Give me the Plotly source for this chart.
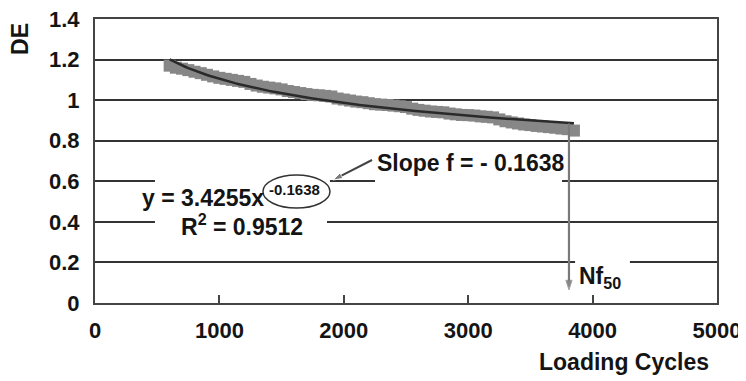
import plotly.graph_objects as go

# ---- data ----
cycles = [600, 650, 700, 750, 800, 850, 900, 950, 1000, 1050, 1100, 1150, 1200,
          1250, 1300, 1350, 1400, 1450, 1500, 1550, 1600, 1650, 1700, 1750, 1800,
          1850, 1900, 1950, 2000, 2050, 2100, 2150, 2200, 2250, 2300, 2350, 2400,
          2450, 2500, 2550, 2600, 2650, 2700, 2750, 2800, 2850, 2900, 2950, 3000,
          3050, 3100, 3150, 3200, 3250, 3300, 3350, 3400, 3450, 3500, 3550, 3600,
          3650, 3700, 3750, 3800, 3850]
de_values = [1.170, 1.160, 1.155, 1.148, 1.140, 1.133, 1.125, 1.117, 1.110, 1.105,
             1.100, 1.095, 1.090, 1.080, 1.072, 1.066, 1.062, 1.058, 1.053, 1.045,
             1.040, 1.035, 1.030, 1.026, 1.024, 1.021, 1.018, 1.008, 1.003, 0.998,
             0.993, 0.990, 0.985, 0.980, 0.978, 0.976, 0.973, 0.970, 0.966, 0.958,
             0.952, 0.948, 0.944, 0.942, 0.940, 0.934, 0.930, 0.927, 0.926, 0.924,
             0.920, 0.918, 0.915, 0.905, 0.896, 0.890, 0.885, 0.880, 0.877, 0.873,
             0.870, 0.867, 0.864, 0.860, 0.857, 0.850]

# power trendline shown on the chart: y = A * x^b
fit_A = 3.4255
fit_b = -0.1638
fit_r2 = 0.9512
fit_x = list(range(600, 3851, 25))
fit_y = [fit_A * x ** fit_b for x in fit_x]

nf50_cycles = 3810
nf50_arrow_y = [0.885, 0.065]
slope_arrow_x = [2227, 1913]
slope_arrow_y = [0.705, 0.606]

x_ticks = [0, 1000, 2000, 3000, 4000, 5000]
y_ticks = [0, 0.2, 0.4, 0.6, 0.8, 1.0, 1.2, 1.4]
y_ticktext = ["0", "0.2", "0.4", "0.6", "0.8", "1", "1.2", "1.4"]

FONT = "Liberation Sans, Arial, sans-serif"
TXT = "#141414"

fig = go.Figure()
fig.add_trace(go.Scatter(
    x=cycles, y=de_values, mode="markers",
    marker=dict(symbol="square", size=12, color="#878787", line=dict(width=0)),
    showlegend=False, hoverinfo="skip"))
fig.add_trace(go.Scatter(
    x=fit_x, y=fit_y, mode="lines",
    line=dict(color="#2a2a2a", width=2.5),
    showlegend=False, hoverinfo="skip"))

# arrows drawn as line traces with an arrow marker at the tip
fig.add_trace(go.Scatter(
    x=[nf50_cycles, nf50_cycles], y=nf50_arrow_y, mode="lines+markers",
    line=dict(color="#7a7a7a", width=2.2),
    marker=dict(symbol="arrow", angleref="previous", size=[0, 10], color="#555555"),
    showlegend=False, hoverinfo="skip"))
fig.add_trace(go.Scatter(
    x=slope_arrow_x, y=slope_arrow_y, mode="lines+markers",
    line=dict(color="#444444", width=2),
    marker=dict(symbol="arrow", angleref="previous", size=[0, 10], color="#444444"),
    showlegend=False, hoverinfo="skip"))

# white masks that interrupt gridlines behind labels
masks = [(482, 1889, 0.6), (2251, 3754, 0.6), (482, 1865, 0.4), (3859, 4300, 0.2)]
for x0, x1, gy in masks:
    fig.add_shape(type="rect", x0=x0, x1=x1, y0=gy - 0.015, y1=gy + 0.015,
                  xref="x", yref="y", fillcolor="white", line=dict(width=0),
                  layer="between")

# ellipse around the exponent
fig.add_shape(type="circle", x0=1350, x1=1889, y0=0.468, y1=0.631,
              xref="x", yref="y", line=dict(color="#333333", width=1.5),
              fillcolor="rgba(0,0,0,0)", layer="above")

fs = 23
tfs = 22
fig.add_annotation(x=3022, y=0.69, xref="x", yref="y", showarrow=False,
                   text="Slope f = - %.4f" % abs(fit_b),
                   font=dict(family=FONT, size=fs, color=TXT, weight="bold"))
fig.add_annotation(x=870, y=0.52, xref="x", yref="y", showarrow=False,
                   text="y = %.4fx" % fit_A,
                   font=dict(family=FONT, size=fs, color=TXT, weight="bold"))
fig.add_annotation(x=1605, y=0.56, xref="x", yref="y", showarrow=False,
                   text="%.4f" % fit_b,
                   font=dict(family=FONT, size=15, color=TXT, weight="bold"))
fig.add_annotation(x=1180, y=0.385, xref="x", yref="y", showarrow=False,
                   text="R<sup>2</sup> = %.4f" % fit_r2,
                   font=dict(family=FONT, size=fs, color=TXT, weight="bold"))
fig.add_annotation(x=4060, y=0.125, xref="x", yref="y", showarrow=False,
                   text="Nf<sub>50</sub>",
                   font=dict(family=FONT, size=fs, color=TXT, weight="bold"))

# axis titles
fig.add_annotation(x=-0.1205, y=0.93, xref="paper", yref="paper", showarrow=False,
                   text="DE", textangle=-90, xanchor="center", yanchor="middle",
                   font=dict(family=FONT, size=fs, color=TXT, weight="bold"))
fig.add_annotation(x=0.85, y=-0.207, xref="paper", yref="paper", showarrow=False,
                   text="Loading Cycles", xanchor="center", yanchor="middle",
                   font=dict(family=FONT, size=fs, color=TXT, weight="bold"))

fig.update_xaxes(range=[0, 5000], tickvals=x_ticks, showgrid=False, zeroline=False,
                 showline=True, mirror=True, linecolor="#444444", linewidth=2,
                 ticks="inside", ticklen=8, tickwidth=2, tickcolor="#444444",
                 ticklabelstandoff=7, automargin=False, ticklabeloverflow="allow",
                 tickfont=dict(family=FONT, size=tfs, color=TXT, weight="bold"))
fig.update_yaxes(range=[0, 1.4], tickvals=y_ticks, ticktext=y_ticktext,
                 showgrid=True, gridcolor="#333333", gridwidth=2, zeroline=False,
                 showline=True, mirror=True, linecolor="#444444", linewidth=2,
                 ticks="", ticklabelstandoff=9, automargin=False,
                 ticklabeloverflow="allow",
                 tickfont=dict(family=FONT, size=tfs, color=TXT, weight="bold"))

# the page body keeps its default 8px margin, so the figure is sized to fit
fig.update_layout(template="none", width=738, height=373,
                  margin=dict(l=87, r=29, t=11, b=78),
                  paper_bgcolor="white", plot_bgcolor="white", showlegend=False)

fig.write_html("out.html")
